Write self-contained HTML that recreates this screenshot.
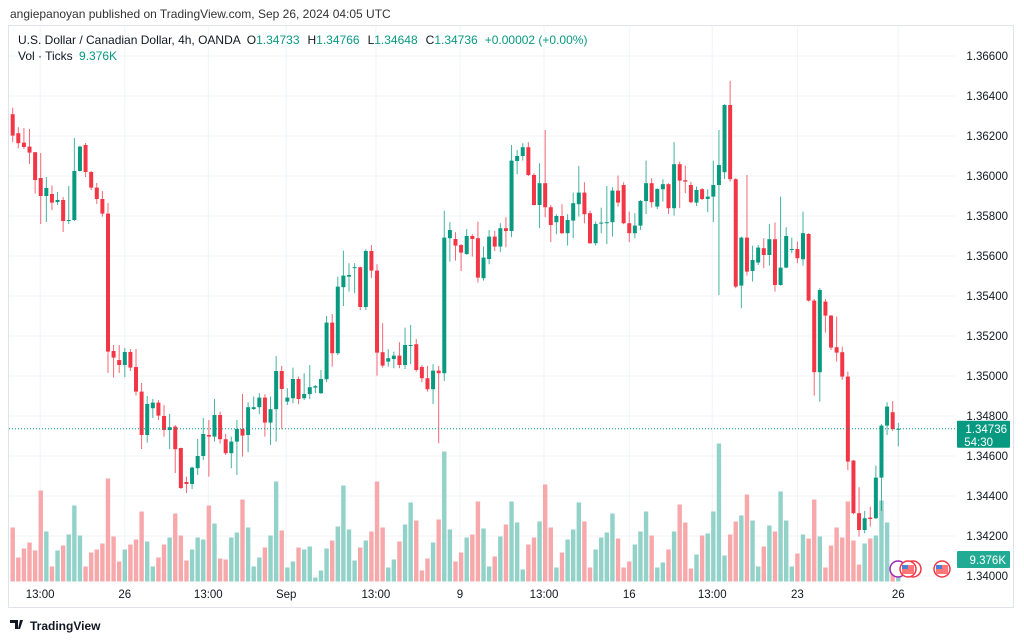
<!DOCTYPE html>
<html><head><meta charset="utf-8">
<style>
html,body{margin:0;padding:0;background:#fff;width:1024px;height:641px;overflow:hidden;font-family:"Liberation Sans",sans-serif;}
svg text{font-family:"Liberation Sans",sans-serif;}
</style></head>
<body>
<svg id="chart" width="1024" height="641" viewBox="0 0 1024 641" xmlns="http://www.w3.org/2000/svg">
<text x="10" y="18" font-size="12" fill="#333">angiepanoyan published on TradingView.com, Sep 26, 2024 04:05 UTC</text>
<rect x="8.5" y="25.5" width="1005" height="582" fill="none" stroke="#e0e3eb"/>
<g id="grid"></g>
<g id="vol"></g>
<g id="candles"></g>
<g id="axis"></g>
<g id="taxis"></g>
<g font-size="12">
<text x="18" y="44" fill="#131722">U.S. Dollar / Canadian Dollar, 4h, OANDA<tspan dx="6">O</tspan><tspan fill="#089981">1.34733</tspan><tspan dx="8">H</tspan><tspan fill="#089981">1.34766</tspan><tspan dx="8">L</tspan><tspan fill="#089981">1.34648</tspan><tspan dx="8">C</tspan><tspan fill="#089981">1.34736</tspan><tspan dx="7" fill="#089981">+0.00002 (+0.00%)</tspan></text>
<text x="18" y="60" fill="#131722">Vol · Ticks <tspan dx="3" fill="#089981">9.376K</tspan></text>
</g>
<g>
<circle cx="898" cy="569" r="8" fill="#fff" stroke="#9c27b0" stroke-width="1.5"/>
<circle cx="913" cy="569" r="8" fill="#fff" stroke="#f23645" stroke-width="1.5"/>
<circle cx="908" cy="569" r="8" fill="#fff" stroke="#f23645" stroke-width="1.5"/>
<rect x="902" y="565" width="12" height="9" fill="#f77" />
<rect x="902" y="565" width="6" height="4" fill="#4a7fd6"/>
<circle cx="942" cy="569" r="8" fill="#fff" stroke="#f23645" stroke-width="1.5"/>
<rect x="936" y="565" width="12" height="9" fill="#f77"/>
<rect x="936" y="565" width="6" height="4" fill="#4a7fd6"/>
</g>
<g>
<path d="M10 620h8v9h-3v-6h-5z M20 620h3l-3 9h-2z" fill="#131722"/>
<text x="30" y="630" font-size="12" font-weight="bold" fill="#131722">TradingView</text>
</g>
</svg>
<script>
const opens=[1.36309,1.36214,1.36167,1.36147,1.36119,1.35990,1.35900,1.35910,1.35870,1.35880,1.35775,1.35780,1.36025,1.36155,1.36020,1.35942,1.35885,1.35812,1.35125,1.35080,1.35055,1.35120,1.35045,1.34922,1.34705,1.34839,1.34867,1.34800,1.34730,1.34747,1.34640,1.34470,1.34460,1.34539,1.34600,1.34705,1.34697,1.34805,1.34684,1.34614,1.34672,1.34735,1.34705,1.34835,1.34844,1.34892,1.34767,1.34834,1.35025,1.34872,1.34889,1.34985,1.34889,1.34910,1.34942,1.34914,1.34984,1.35267,1.35114,1.35444,1.35497,1.35539,1.35544,1.35345,1.35625,1.35527,1.35119,1.35072,1.35085,1.35102,1.35055,1.35150,1.35159,1.35045,1.34989,1.34934,1.35027,1.35014,1.35689,1.35685,1.35655,1.35610,1.35700,1.35689,1.35489,1.35585,1.35697,1.35647,1.35739,1.35725,1.36075,1.36100,1.36144,1.36005,1.35855,1.35964,1.35844,1.35769,1.35800,1.35714,1.35777,1.35859,1.35917,1.35814,1.35664,1.35764,1.35764,1.35769,1.35927,1.35955,1.35764,1.35714,1.35752,1.35875,1.35964,1.35847,1.35934,1.35959,1.35839,1.36059,1.35979,1.35955,1.35867,1.35934,1.35885,1.35897,1.35955,1.36019,1.36355,1.35984,1.35452,1.35692,1.35525,1.35567,1.35639,1.35605,1.35684,1.35455,1.35542,1.35630,1.35635,1.35584,1.35710,1.35377,1.35019,1.35372,1.35302,1.35144,1.35119,1.34997,1.34577,1.34314,1.34230,1.34292,1.34289,1.34492,1.34752,1.34819,1.34733];
const highs=[1.36342,1.36244,1.36240,1.36235,1.36120,1.36115,1.35995,1.35952,1.35920,1.35895,1.35950,1.36190,1.36152,1.36165,1.36025,1.35965,1.35925,1.35865,1.35155,1.35155,1.35140,1.35135,1.35135,1.34965,1.34900,1.34885,1.34880,1.34855,1.34810,1.34755,1.34642,1.34497,1.34547,1.34685,1.34790,1.34780,1.34885,1.34822,1.34710,1.34697,1.34780,1.34910,1.34869,1.34897,1.34914,1.34909,1.34897,1.35100,1.35050,1.34939,1.35042,1.34997,1.35014,1.35055,1.34955,1.35030,1.35300,1.35310,1.35497,1.35627,1.35564,1.35564,1.35547,1.35634,1.35655,1.35559,1.35264,1.35135,1.35122,1.35169,1.35242,1.35255,1.35185,1.35055,1.35050,1.35059,1.35050,1.35827,1.35769,1.35719,1.35659,1.35735,1.35709,1.35772,1.35647,1.35730,1.35725,1.35764,1.35794,1.36155,1.36130,1.36164,1.36169,1.36014,1.36064,1.36230,1.35855,1.35809,1.35859,1.35809,1.35917,1.36050,1.35969,1.35827,1.35772,1.35842,1.35950,1.35944,1.36002,1.35969,1.35822,1.35814,1.35880,1.36077,1.35989,1.35939,1.35984,1.35964,1.36169,1.36072,1.36052,1.35972,1.35947,1.35939,1.35934,1.36077,1.36230,1.36359,1.36475,1.35989,1.35697,1.36005,1.35652,1.35655,1.35689,1.35760,1.35767,1.35897,1.35744,1.35692,1.35672,1.35822,1.35714,1.35385,1.35439,1.35385,1.35305,1.35297,1.35147,1.35022,1.34580,1.34444,1.34325,1.34347,1.34552,1.34759,1.34869,1.34875,1.34766];
const lows=[1.36169,1.36139,1.36135,1.36060,1.35912,1.35760,1.35770,1.35830,1.35855,1.35720,1.35760,1.35775,1.36022,1.35995,1.35930,1.35860,1.35797,1.35015,1.34992,1.35015,1.34995,1.35025,1.34902,1.34635,1.34667,1.34790,1.34780,1.34697,1.34635,1.34515,1.34435,1.34415,1.34435,1.34505,1.34580,1.34497,1.34672,1.34662,1.34605,1.34539,1.34505,1.34597,1.34619,1.34830,1.34809,1.34697,1.34655,1.34672,1.34734,1.34855,1.34864,1.34859,1.34880,1.34885,1.34914,1.34910,1.34969,1.35047,1.35105,1.35350,1.35422,1.35414,1.35330,1.35330,1.35489,1.35002,1.35042,1.35047,1.35039,1.35039,1.35035,1.35059,1.35022,1.34969,1.34922,1.34860,1.34664,1.34975,1.35572,1.35577,1.35525,1.35605,1.35597,1.35467,1.35477,1.35559,1.35625,1.35619,1.35644,1.35694,1.36009,1.36077,1.36000,1.35852,1.35739,1.35794,1.35669,1.35709,1.35710,1.35652,1.35689,1.35797,1.35764,1.35660,1.35652,1.35714,1.35660,1.35697,1.35847,1.35759,1.35669,1.35689,1.35730,1.35810,1.35842,1.35835,1.35872,1.35810,1.35802,1.35839,1.35914,1.35864,1.35850,1.35880,1.35819,1.35769,1.35405,1.35985,1.35972,1.35439,1.35339,1.35502,1.35472,1.35555,1.35539,1.35552,1.35422,1.35452,1.35539,1.35614,1.35564,1.35552,1.35372,1.34902,1.34872,1.35217,1.35130,1.35072,1.34980,1.34530,1.34309,1.34197,1.34214,1.34247,1.34285,1.34325,1.34705,1.34725,1.34648];
const closes=[1.36202,1.36164,1.36145,1.36117,1.35980,1.35900,1.35940,1.35867,1.35880,1.35775,1.35780,1.36025,1.36147,1.36020,1.35942,1.35885,1.35812,1.35122,1.35092,1.35055,1.35120,1.35042,1.34922,1.34705,1.34860,1.34867,1.34802,1.34730,1.34744,1.34634,1.34440,1.34460,1.34542,1.34600,1.34710,1.34697,1.34805,1.34684,1.34614,1.34672,1.34735,1.34702,1.34844,1.34844,1.34892,1.34767,1.34834,1.35025,1.34935,1.34892,1.34985,1.34885,1.34910,1.34944,1.34949,1.34985,1.35267,1.35114,1.35447,1.35502,1.35505,1.35544,1.35345,1.35625,1.35527,1.35117,1.35052,1.35089,1.35102,1.35055,1.35155,1.35155,1.35030,1.34989,1.34934,1.35027,1.35014,1.35692,1.35730,1.35652,1.35617,1.35700,1.35685,1.35492,1.35592,1.35697,1.35647,1.35739,1.35725,1.36077,1.36100,1.36144,1.36005,1.35855,1.35964,1.35844,1.35755,1.35800,1.35714,1.35780,1.35864,1.35917,1.35809,1.35664,1.35760,1.35767,1.35769,1.35927,1.35867,1.35764,1.35714,1.35752,1.35875,1.35964,1.35869,1.35935,1.35959,1.35839,1.36059,1.35977,1.35972,1.35869,1.35930,1.35885,1.35897,1.35955,1.36055,1.36355,1.35984,1.35447,1.35692,1.35522,1.35580,1.35642,1.35605,1.35684,1.35455,1.35542,1.35700,1.35635,1.35589,1.35714,1.35377,1.35019,1.35430,1.35302,1.35142,1.35117,1.34997,1.34572,1.34314,1.34230,1.34289,1.34285,1.34492,1.34752,1.34847,1.34735,1.34736];
const volumes=[54,24,33,39,31,91,50,15,31,36,47,76,46,15,29,32,38,103,45,20,32,37,42,70,40,15,24,37,44,68,46,21,32,44,42,76,58,23,22,44,49,82,54,15,24,34,46,100,51,14,20,34,32,35,4,11,33,41,55,96,52,21,34,41,50,100,54,14,22,40,57,79,61,11,23,39,62,130,52,20,29,44,47,80,53,15,25,45,57,80,59,12,37,44,60,97,54,14,29,42,52,79,60,14,32,44,49,68,43,14,20,37,50,70,46,14,19,32,50,77,59,13,27,46,48,70,138,26,47,60,66,87,61,15,35,56,50,90,61,15,28,47,43,82,45,14,36,54,44,80,41,17,38,43,46,81,59,16,21];
const priceTicks=[1.366,1.364,1.362,1.360,1.358,1.356,1.354,1.352,1.350,1.348,1.346,1.344,1.342,1.340];
const timeLabels=["13:00","26","13:00","Sep","13:00","9","13:00","16","13:00","23","26"];
const timeLabelIdx=[4.9,20,34.9,48.8,64.8,79.8,94.8,110,124.8,140,158];
const lastPrice=1.34736;

const NS="http://www.w3.org/2000/svg";
const X0=12.7, DX=5.605, PLOT_R=955;
function xs(i){return X0+i*DX;}
function ys(p){return 56+(1.366-p)*20000;}
function yv(v){return 581.5-v;}
function mk(tag,attrs,parent){const e=document.createElementNS(NS,tag);for(const k in attrs)e.setAttribute(k,attrs[k]);parent.appendChild(e);return e;}

const grid=document.getElementById('grid');
priceTicks.forEach(p=>{
  const l=mk('line',{x1:9,x2:PLOT_R,y1:ys(p),y2:ys(p),stroke:'#f0f3fa','stroke-width':1},grid);
  
  
});
timeLabelIdx.forEach(i=>{
  const l=mk('line',{x1:xs(i),x2:xs(i),y1:26,y2:582,stroke:'#f0f3fa','stroke-width':1},grid);
  
  
});

const vol=document.getElementById('vol');
volumes.forEach((v,i)=>{
  const up=closes[i]>=opens[i];
  const r=mk('rect',{x:xs(i)-2.2,y:yv(v),width:4.4,height:v,fill:up?'#92d2c8':'#f7a8ab'},vol);
  
  
});

const cg=document.getElementById('candles');
opens.forEach((o,i)=>{
  const c=closes[i],up=c>=o,col=up?'#089981':'#f23645';
  const g=mk('g',{},cg);
  
  
  mk('line',{x1:xs(i),x2:xs(i),y1:ys(highs[i]),y2:ys(lows[i]),stroke:col,'stroke-width':1,'stroke-opacity':0.75},g);
  const t=ys(Math.max(o,c)),b=ys(Math.min(o,c));
  mk('rect',{x:xs(i)-2,y:t,width:4,height:Math.max(1,b-t),fill:col},g);
});

const lp=mk('line',{x1:9,x2:PLOT_R,y1:ys(lastPrice),y2:ys(lastPrice),stroke:'#089981','stroke-width':1,'stroke-dasharray':'1,2'},cg);



const ax=document.getElementById('axis');
priceTicks.forEach(p=>{
  const t=mk('text',{x:1008,y:ys(p)+4,'font-size':11.5,fill:'#131722','text-anchor':'end'},ax);
  t.textContent=p.toFixed(5);
  
  
});
const lb=mk('rect',{x:957,y:ys(lastPrice)-8,width:53,height:27,fill:'#089981',rx:1},ax);


const lt=mk('text',{x:1007,y:ys(lastPrice)+4,'font-size':11.5,fill:'#fff','text-anchor':'end'},ax);
lt.textContent=lastPrice.toFixed(5);


const ct=mk('text',{x:993,y:ys(lastPrice)+17,'font-size':11.5,fill:'#fff','text-anchor':'end'},ax);
ct.textContent='54:30';


const vb=mk('rect',{x:957,y:551,width:53,height:17,fill:'#22ab94',rx:1},ax);


const vt=mk('text',{x:1006,y:564,'font-size':11.5,fill:'#fff','text-anchor':'end'},ax);
vt.textContent='9.376K';



const ta=document.getElementById('taxis');
timeLabels.forEach((s,i)=>{
  const t=mk('text',{x:xs(timeLabelIdx[i]),y:598,'font-size':11.5,fill:'#131722','text-anchor':'middle'},ta);
  t.textContent=s;
  
  
});
</script>
</body></html>
